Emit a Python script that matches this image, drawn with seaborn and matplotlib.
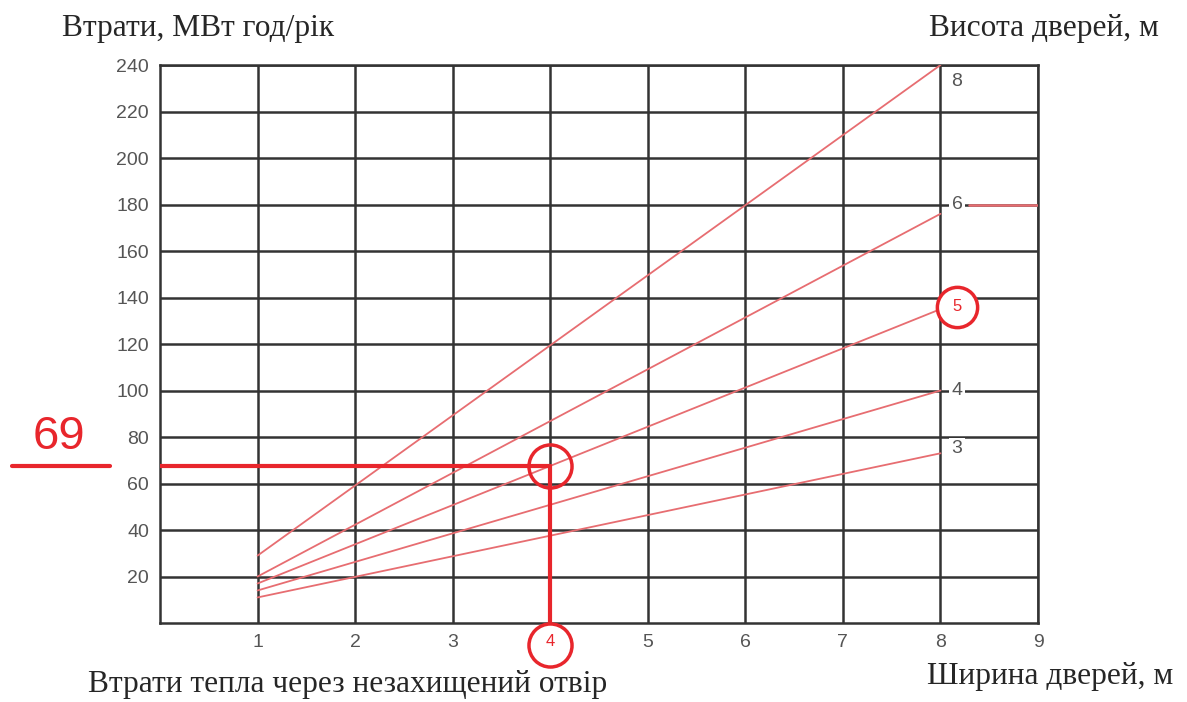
import pandas as pd
import matplotlib.pyplot as plt
import seaborn as sns

sns.set_style("white")
plt.rcParams["font.family"] = ["Liberation Sans", "DejaVu Sans"]

# Door width (m) at the ends of each line
widths = [1, 8]
# Heat loss (MWh/year) for each door height
loss_h3 = [11, 73]
loss_h4 = [14, 100]
loss_h5 = [17, 135]
loss_h6 = [20, 176]
loss_h8 = [29, 240]
heights = ["3", "4", "5", "6", "8"]

x_ticks = [1, 2, 3, 4, 5, 6, 7, 8, 9]
y_ticks = [20, 40, 60, 80, 100, 120, 140, 160, 180, 200, 220, 240]

# Worked example: width 4 m, height 5 m -> 69 MWh/year
example_width = 4
example_loss = 67.5
example_label = "69"

rows = []
for h, vals in zip(heights, [loss_h3, loss_h4, loss_h5, loss_h6, loss_h8]):
    for w, v in zip(widths, vals):
        rows.append({"width": w, "loss": v, "height": h})
df = pd.DataFrame(rows)

fig = plt.figure(figsize=(11.87, 7.02), dpi=100)
ax = fig.add_axes([0.1348, 0.1125, 0.7397, 0.7949])

line_red = "#e76d71"
mark_red = "#e8262c"
grid_col = "#333333"

sns.lineplot(data=df, x="width", y="loss", hue="height",
             palette=[line_red] * len(heights), lw=1.3, legend=False, ax=ax, zorder=3)

ax.set_xlim(0, 9)
ax.set_ylim(0, 240)
ax.set_xticks(x_ticks)
ax.set_yticks(y_ticks)
ax.grid(True, color=grid_col, lw=1.8, zorder=1)
ax.set_axisbelow(True)
for sp in ax.spines.values():
    sp.set_color(grid_col)
    sp.set_linewidth(1.8)
ax.tick_params(length=0, labelsize=14, labelcolor="#555555", pad=8)
ax.set_xlabel("")
ax.set_ylabel("")
for lab in ax.get_xticklabels():
    if lab.get_text() == "4":
        lab.set_color(mark_red)
        lab.set_fontsize(12)

# height labels at the right ends of the lines
label_pos = {"8": 233, "6": 180, "4": 100, "3": 75}
for h, y in label_pos.items():
    ax.text(8.17, y, h, ha="center", va="center", fontsize=14, color="#555555",
            bbox=dict(facecolor="white", edgecolor="none", pad=1.5), zorder=4)
ax.plot([8.29, 9], [180, 180], color=line_red, lw=1.8, zorder=4)

# highlighted height 5
ax.plot([8.17], [136], marker="o", ms=29, mfc="white", mec=mark_red, mew=2.5, zorder=5)
ax.text(8.17, 136, "5", ha="center", va="center", fontsize=12, color=mark_red, zorder=6)

# example reading lines
ax.plot([0, example_width], [example_loss, example_loss], color=mark_red, lw=3, zorder=5)
ax.plot([example_width, example_width], [0, example_loss], color=mark_red, lw=3, zorder=5)
ax.plot([example_width], [example_loss], marker="o", ms=31, mfc="none", mec=mark_red,
        mew=2.5, zorder=6)
ax.plot([-1.52, -0.51], [example_loss, example_loss], color=mark_red, lw=3,
        clip_on=False, zorder=5)
ax.text(-1.04, 80, example_label, ha="center", va="center", fontsize=34, color=mark_red)
ax.plot([example_width], [-9.5], marker="o", ms=31, mfc="none", mec=mark_red,
        mew=2.5, clip_on=False, zorder=6)

serif = ["Liberation Serif", "DejaVu Serif"]
fig.text(0.052, 0.96, "Втрати, МВт год/рік", family=serif, fontsize=22.6, va="center")
fig.text(0.783, 0.96, "Висота дверей, м", family=serif, fontsize=22.6, va="center")
fig.text(0.781, 0.036, "Ширина дверей, м", family=serif, fontsize=22.6, va="center")
fig.text(0.074, 0.004, "Втрати тепла через незахищений отвір", family=serif,
         fontsize=22.6, va="bottom")

fig.savefig("out.png", dpi=100)
